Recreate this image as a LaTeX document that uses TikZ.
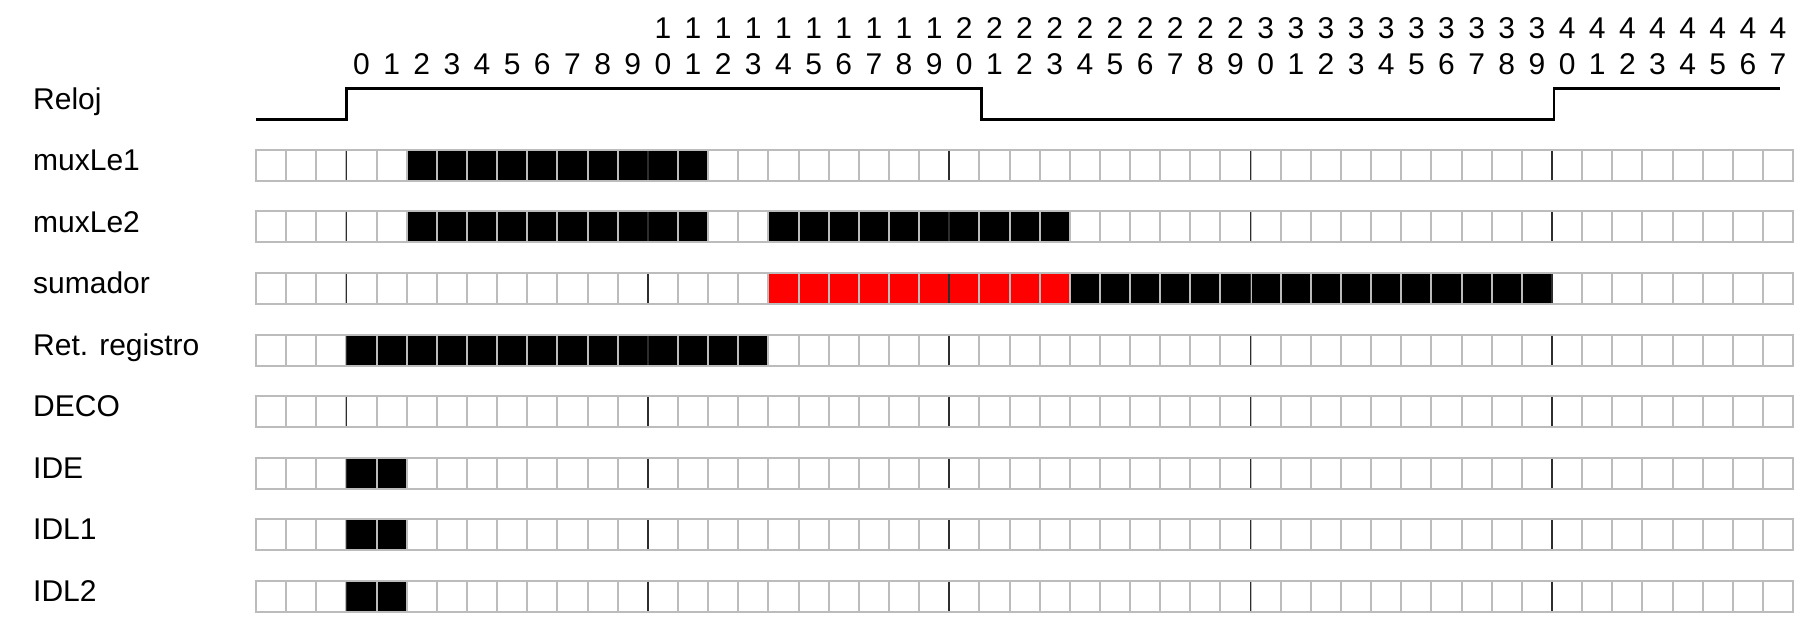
\documentclass[tikz,border=0pt]{standalone}
\usepackage{fontspec}
\setmainfont{Liberation Sans}
\definecolor{gridgray}{RGB}{188,188,188}
\definecolor{sepdark}{RGB}{45,45,45}
\begin{document}
\begin{tikzpicture}[x=1bp,y=-1bp,
  lbl/.style={anchor=base west, inner sep=0pt, font=\fontsize{30bp}{36bp}\selectfont},
  num/.style={anchor=base, inner sep=0pt, font=\fontsize{30bp}{36bp}\selectfont},
  gridline/.style={draw=gridgray, line width=2bp},
  sepline/.style={draw=sepdark, line width=1.6bp},
  clockline/.style={draw=black, line width=2.6bp}]
\useasboundingbox (0,0) rectangle (1811,629);
\def\cw{30.14}
\def\xo{256}
\def\rh{31}
% time numbers
\foreach \t in {0,...,47} {
  \pgfmathtruncatemacro{\lo}{mod(\t,10)}
  \pgfmathtruncatemacro{\hi}{\t/10}
  \node[num] (d\t) at ({\xo+\cw*(\t+3.5)},74.5) {\lo};
  \ifnum\t>9 \node[num] (h\t) at ({\xo+\cw*(\t+3.5)},39) {\hi};\fi
}
% clock
\node[lbl] (reloj) at (33,110) {Reloj};
\draw[clockline] (256,119.5) -| (346.6,88.5) -| (981.6,119.5) -| (1554,88.5) -- (1780,88.5);
% fills: row / from / to / colour
\foreach \r/\a/\b/\c in {1/2/11/black, 2/2/11/black, 2/14/23/black, 3/14/23/red, 3/24/39/black,
                         4/0/13/black, 6/0/1/black, 7/0/1/black, 8/0/1/black} {
  \pgfmathsetmacro{\yt}{150+61.5*(\r-1)}
  \fill[\c] ({\xo+\cw*(\a+3)},\yt) rectangle ({\xo+\cw*(\b+4)},{\yt+\rh});
}
% rows
\foreach \n/\lab [count=\r] in {mux1/muxLe1, mux2/muxLe2, sum/sumador, ret/Ret. registro, deco/DECO, ide/IDE, idl1/IDL1, idl2/IDL2} {
  \pgfmathsetmacro{\yt}{150+61.5*(\r-1)}
  \node[lbl] (\n) at (33,{\yt+20.9}) {\lab};
  \foreach \k in {1,...,50} {
    \draw[gridline] ({\xo+\cw*\k},\yt) -- ({\xo+\cw*\k},{\yt+\rh});
  }
  \draw[gridline] (\xo,\yt) rectangle ({\xo+\cw*51},{\yt+\rh});
  \foreach \k in {3,13,23,33,43} {
    \draw[sepline] ({\xo+\cw*\k},{\yt+1}) -- ({\xo+\cw*\k},{\yt+\rh-1});
  }
}
\end{tikzpicture}
\end{document}
